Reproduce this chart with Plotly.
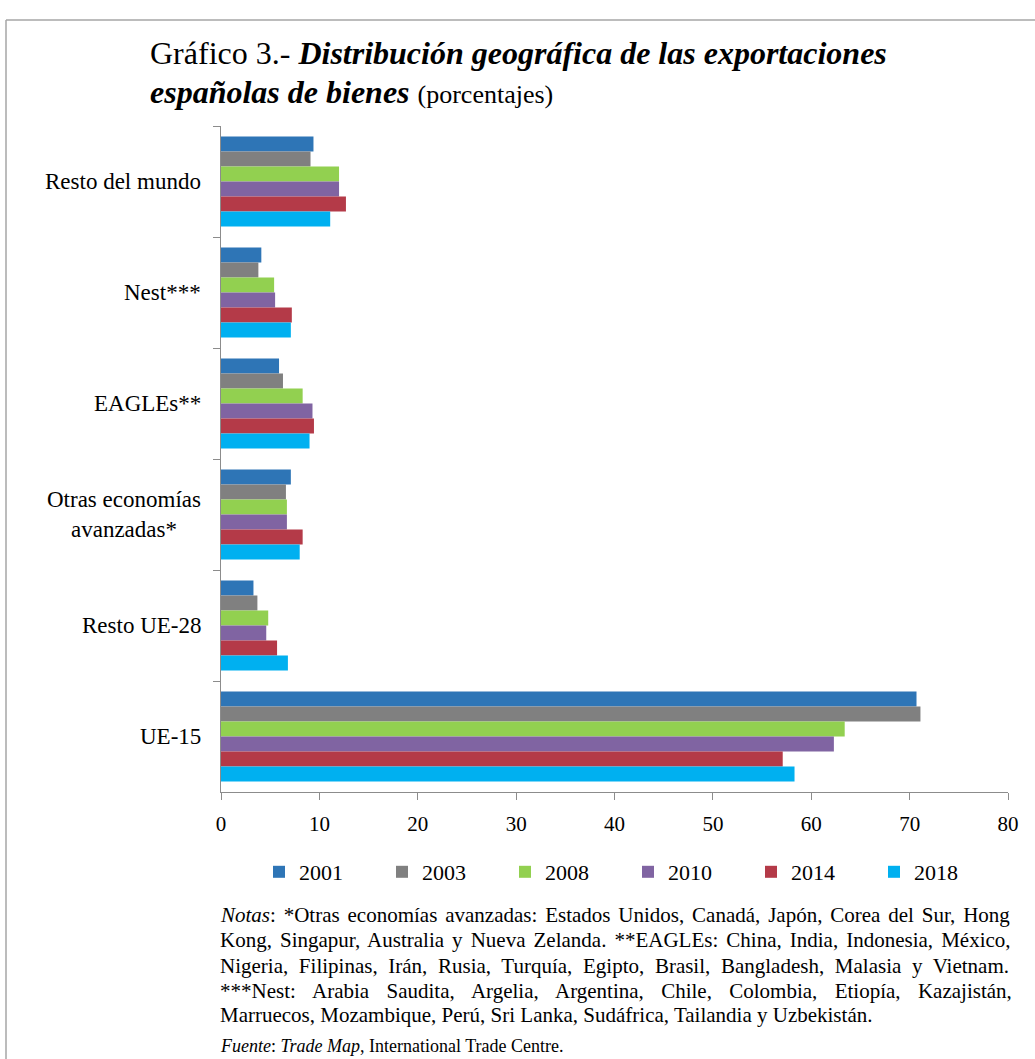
import plotly.graph_objects as go

categories = ["Resto del mundo", "Nest***", "EAGLEs**", "Otras economías avanzadas*", "Resto UE-28", "UE-15"]
cat_labels = ["Resto del mundo", "Nest***", "EAGLEs**", "Otras economías<br>avanzadas*", "Resto UE-28", "UE-15"]
years = ["2001", "2003", "2008", "2010", "2014", "2018"]
colors = ["#2E75B6", "#808080", "#92D050", "#8064A2", "#B43A48", "#00B0F0"]

v2001 = [9.4, 4.1, 5.9, 7.1, 3.3, 70.7]
v2003 = [9.1, 3.8, 6.3, 6.6, 3.7, 71.1]
v2008 = [12.0, 5.4, 8.3, 6.7, 4.8, 63.4]
v2010 = [12.0, 5.5, 9.3, 6.7, 4.6, 62.3]
v2014 = [12.7, 7.2, 9.45, 8.3, 5.7, 57.1]
v2018 = [11.1, 7.1, 9.0, 8.0, 6.8, 58.3]
series = [v2001, v2003, v2008, v2010, v2014, v2018]

FONT = "Liberation Serif, Times New Roman, serif"

# plot area in pixels
L, R, T, B = 221, 1008, 126, 792
W, H = 1035, 1059
pw, ph = R - L, B - T

def px(x):
    return (x - L) / pw

def py(y):
    return (B - y) / ph

fig = go.Figure()
for yr, vals, col in zip(years, series, colors):
    fig.add_trace(go.Bar(
        y=categories, x=vals, name=yr, orientation="h",
        marker=dict(color=col, line=dict(width=0)),
    ))

annotations = []
# category labels
for c, lab in zip(categories, cat_labels):
    annotations.append(dict(
        x=px(203), xref="paper", y=c, yref="y", text=lab, showarrow=False,
        xanchor="right", yanchor="middle", align="center",
        font=dict(family=FONT, size=23, color="#000000"),
    ))

# title
annotations.append(dict(
    x=px(148), xref="paper", y=py(53), yref="paper", showarrow=False,
    xanchor="left", yanchor="middle", align="left",
    text="Gráfico 3.- <b><i>Distribución geográfica de las exportaciones</i></b>",
    font=dict(family=FONT, size=32, color="#000000"),
))
annotations.append(dict(
    x=px(148), xref="paper", y=py(92), yref="paper", showarrow=False,
    xanchor="left", yanchor="middle", align="left",
    text="<b><i>españolas de bienes</i></b> <span style='font-size:26px'>(porcentajes)</span>",
    font=dict(family=FONT, size=32, color="#000000"),
))

notes = [
    "<i>Notas</i>: *Otras economías avanzadas: Estados Unidos, Canadá, Japón, Corea del Sur, Hong",
    "Kong, Singapur, Australia y Nueva Zelanda. **EAGLEs: China, India, Indonesia, México,",
    "Nigeria, Filipinas, Irán, Rusia, Turquía, Egipto, Brasil, Bangladesh, Malasia y Vietnam.",
    "***Nest: Arabia Saudita, Argelia, Argentina, Chile, Colombia, Etiopía, Kazajistán,",
    "Marruecos, Mozambique, Perú, Sri Lanka, Sudáfrica, Tailandia y Uzbekistán.",
]
note_spacing = [2.6, 2.8, 5.4, 12.1, 0]
note_y = [915, 940, 966, 991, 1015]
for t, ws, yy in zip(notes, note_spacing, note_y):
    annotations.append(dict(
        x=px(218), xref="paper", y=py(yy), yref="paper", showarrow=False,
        xanchor="left", yanchor="middle", align="left",
        text=f"<span style='word-spacing:{ws}px'>{t}</span>",
        font=dict(family=FONT, size=21, color="#000000"),
    ))
annotations.append(dict(
    x=px(218), xref="paper", y=py(1046), yref="paper", showarrow=False,
    xanchor="left", yanchor="middle", align="left",
    text="<i>Fuente</i>: <i>Trade Map</i>, International Trade Centre.",
    font=dict(family=FONT, size=18, color="#000000"),
))

border = dict(color="#A6A6A6", width=1.5)
shapes = [
    dict(type="line", xref="paper", yref="paper",
         x0=px(6), x1=px(1040), y0=py(20), y1=py(20), line=border, layer="below"),
    dict(type="line", xref="paper", yref="paper",
         x0=px(6), x1=px(6), y0=py(20), y1=py(1065), line=border, layer="below"),
]

fig.update_layout(
    width=W, height=H,
    margin=dict(l=L, r=W - R, t=T, b=H - B, pad=0),
    paper_bgcolor="#FFFFFF", plot_bgcolor="#FFFFFF",
    barmode="group", bargap=0.19, bargroupgap=0,
    font=dict(family=FONT, size=21, color="#000000"),
    showlegend=True,
    legend=dict(
        orientation="h", x=px(259), xanchor="left", y=py(872), yanchor="middle",
        font=dict(family=FONT, size=22, color="#000000"),
        entrywidth=78, entrywidthmode="pixels", itemwidth=30,
        traceorder="normal", bgcolor="rgba(0,0,0,0)",
    ),
    annotations=annotations,
    shapes=shapes,
    xaxis=dict(
        range=[0, 80], dtick=10, tick0=0, showgrid=False, zeroline=False,
        showline=True, linecolor="#8C8C8C", linewidth=1.3,
        ticks="outside", ticklen=7, tickcolor="#8C8C8C", tickwidth=1.3,
        ticklabelstandoff=6,
        tickfont=dict(family=FONT, size=21, color="#000000"),
    ),
    yaxis=dict(
        type="category", categoryorder="array", categoryarray=categories,
        autorange="reversed", showgrid=False, zeroline=False,
        showline=True, linecolor="#8C8C8C", linewidth=1.3,
        ticks="outside", ticklen=7, tickcolor="#8C8C8C", tickwidth=1.3,
        tickson="boundaries", showticklabels=False,
    ),
)

fig.write_html("out.html", config={"displayModeBar": False},
               post_script="document.body.style.margin='0px';")
